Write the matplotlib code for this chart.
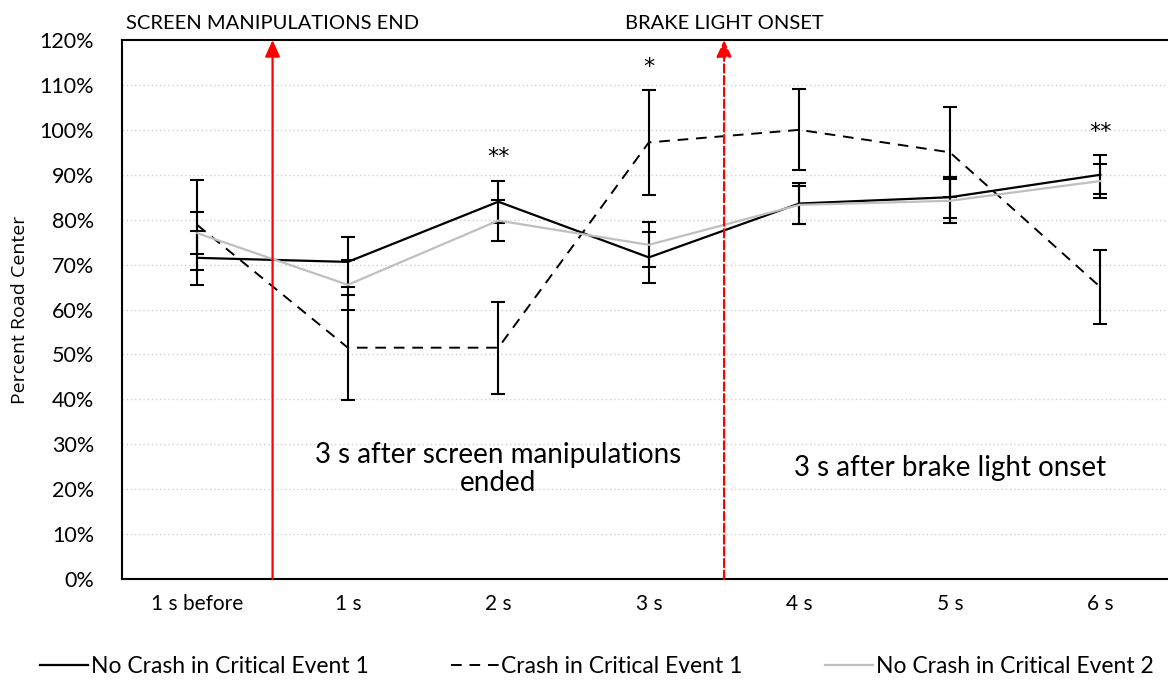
import numpy as np
import matplotlib
matplotlib.use("Agg")
from matplotlib import pyplot as plt
from matplotlib.ticker import PercentFormatter

plt.rcParams['font.family'] = ['Lato', 'DejaVu Sans']

categories = ["1 s before", "1 s", "2 s", "3 s", "4 s", "5 s", "6 s"]

# means (%) and error half-widths
no_crash_1 = [71.5, 70.6, 84.0, 71.6, 83.6, 85.0, 90.0]
no_crash_1_err = [6.0, 5.5, 4.7, 5.6, 4.5, 4.6, 4.3]
crash_1 = [78.8, 51.5, 51.5, 97.2, 100.0, 95.0, 65.0]
crash_1_err = [10.0, 11.7, 10.2, 11.7, 9.0, 10.0, 8.3]
no_crash_2 = [77.0, 65.5, 79.8, 74.4, 83.3, 84.2, 88.6]
no_crash_2_err = [4.7, 5.6, 4.5, 5.0, 4.3, 4.9, 3.8]

# significance marks: (category index, y, text)
sig_marks = [(2, 94.0, "**"), (3, 114.0, "*"), (6, 99.5, "**")]

# event markers between categories
events = [(0.5, "SCREEN MANIPULATIONS END", "-"), (3.5, "BRAKE LIGHT ONSET", "--")]

# region notes
notes = [(2.0, 24.5, "3 s after screen manipulations\nended"),
         (5.0, 24.7, "3 s after brake light onset")]

x = np.arange(len(categories))

fig = plt.figure(figsize=(11.68, 6.84), dpi=100)
ax = fig.add_axes([0.1045, 0.1535, 0.902, 0.788])

ax.set_ylim(0, 120)
ax.set_xlim(-0.5, 6.5)
ax.set_yticks(np.arange(0, 121, 10))
ax.yaxis.set_major_formatter(PercentFormatter(decimals=0))
ax.set_xticks(x)
ax.set_xticklabels(categories)
ax.tick_params(axis='both', length=0)
ax.tick_params(axis='x', pad=11, labelsize=15)
ax.tick_params(axis='y', pad=20, labelsize=15.5)
ax.set_ylabel("Percent Road Center", fontsize=14, family=['Open Sans', 'DejaVu Sans'], labelpad=8)

for yv in np.arange(10, 120, 10):
    ax.axhline(yv, color='#d0d0d0', lw=1.0, ls=(0, (1, 2)), zorder=0)

for side in ['left', 'bottom', 'top']:
    ax.spines[side].set_linewidth(1.5)
    ax.spines[side].set_color('black')
ax.spines['right'].set_visible(False)

eb_kw = dict(fmt='none', ecolor='black', elinewidth=1.5, capsize=5, capthick=1.5, zorder=3)
ax.errorbar(x, no_crash_1, yerr=no_crash_1_err, **eb_kw)
ax.errorbar(x, crash_1, yerr=crash_1_err, **eb_kw)
ax.errorbar(x, no_crash_2, yerr=no_crash_2_err, **eb_kw)

l1, = ax.plot(x, no_crash_1, color='black', lw=1.6, zorder=4, label="No Crash in Critical Event 1")
l2, = ax.plot(x, crash_1, color='black', lw=1.4, ls=(0, (5.5, 4)), zorder=4, label="Crash in Critical Event 1")
l3, = ax.plot(x, no_crash_2, color='#bfbfbf', lw=1.6, zorder=4, label="No Crash in Critical Event 2")

for i, yv, txt in sig_marks:
    ax.text(x[i], yv, txt, ha='center', va='center', fontsize=16, family='DejaVu Sans')

for xe, label, style in events:
    ax.annotate("", xy=(xe, 120), xytext=(xe, 0),
                arrowprops=dict(arrowstyle='-|>,head_length=1.0,head_width=0.45',
                                color='red', lw=1.6, linestyle=style,
                                shrinkA=0, shrinkB=0),
                zorder=5, annotation_clip=False)
    ax.text(xe, 121.8, label, ha='center', va='bottom', fontsize=14.5)

for xn, yn, txt in notes:
    ax.text(xn, yn, txt, ha='center', va='center', fontsize=20, linespacing=1.1)

fig.legend(handles=[l1, l2, l3], loc='center', bbox_to_anchor=(0.511, 0.025),
           ncol=3, frameon=False, fontsize=16.5, handlelength=2.1,
           handletextpad=0.1, columnspacing=3.6)

fig.savefig("out.png", dpi=100)
